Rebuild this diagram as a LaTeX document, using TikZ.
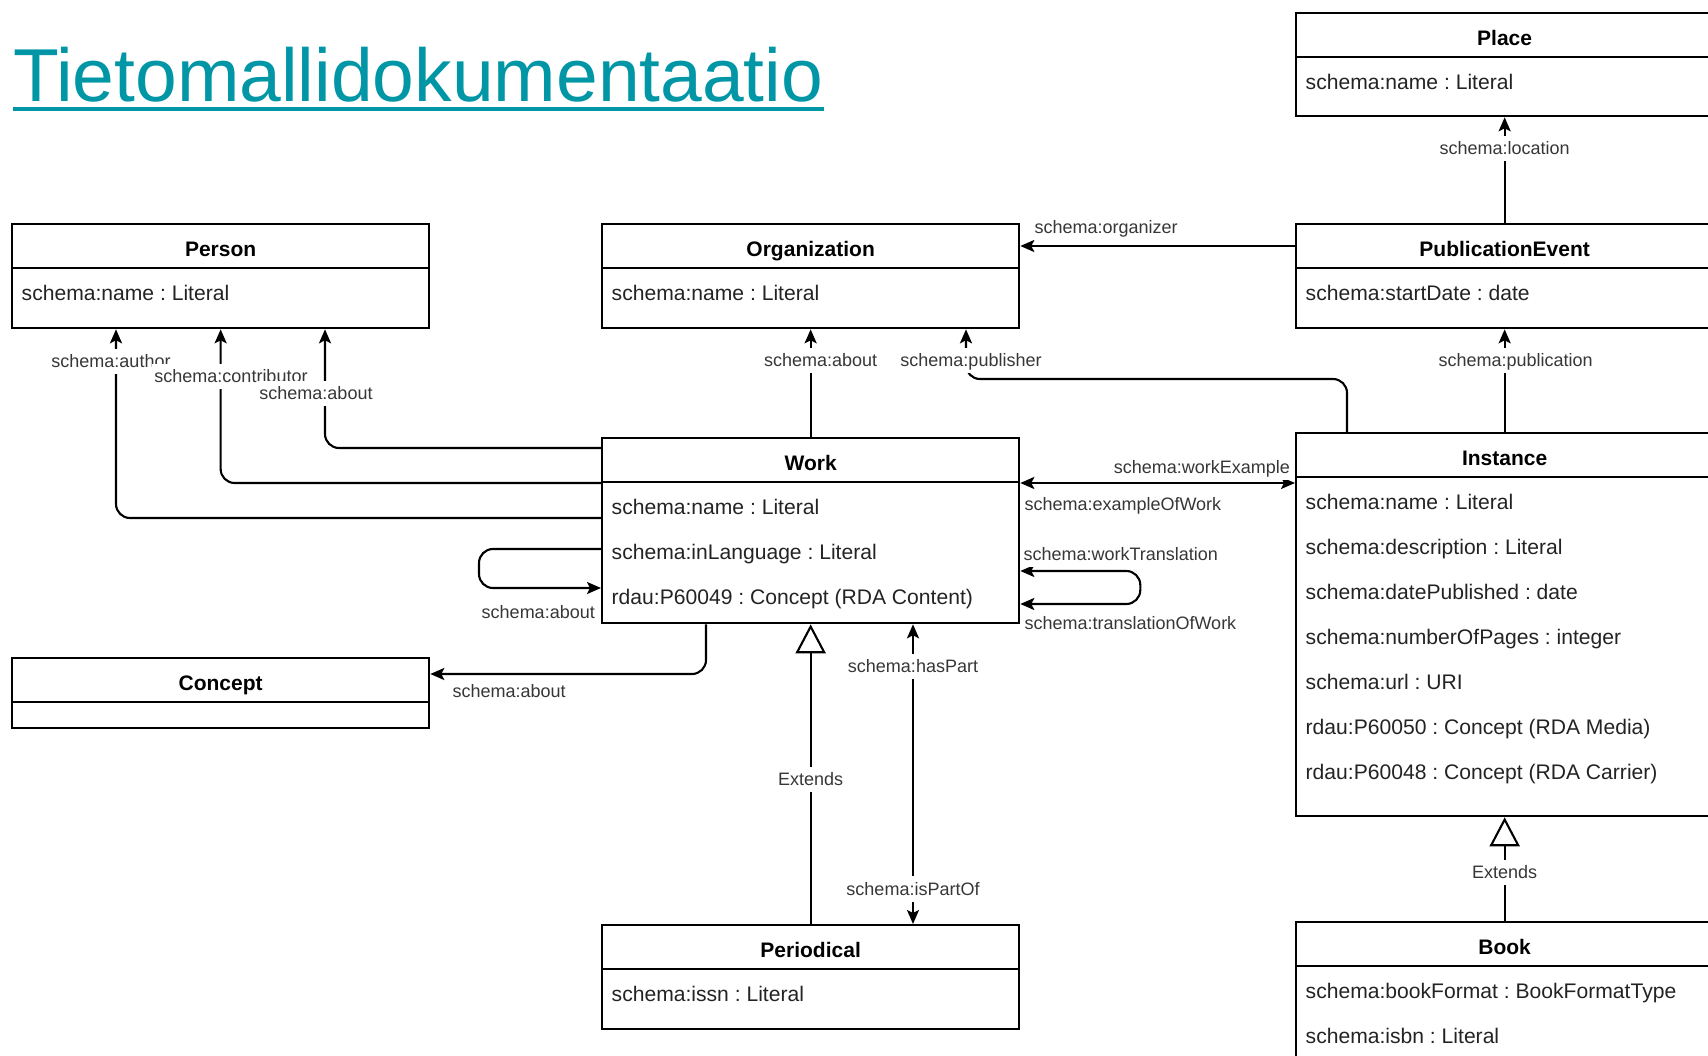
\documentclass[tikz,border=0pt]{standalone}
\usepackage{fontspec}
\setmainfont{Liberation Sans}
\usetikzlibrary{arrows.meta,calc}
\frenchspacing

\definecolor{titleteal}{RGB}{0,150,166}
\definecolor{attrgray}{RGB}{35,35,35}
\definecolor{lblgray}{RGB}{55,55,55}

% class box: name, x, y, height, title
\newcommand{\umlclass}[5]{%
  \node[classbox, minimum height=#4pt] (#1) at (#2,#3) {};
  \node[classtitle] (#1-title) at ($(#1.north)+(0,26)$) {#5};
  \draw[boxline] ($(#1.north west)+(0,45)$) -- ($(#1.north east)+(0,45)$);
}

\begin{document}
\begin{tikzpicture}[x=1pt, y=-1pt,
  classbox/.style={draw, line width=2.3pt, anchor=north west, minimum width=417pt, inner sep=0pt},
  classtitle/.style={font=\fontsize{21}{24}\selectfont\bfseries, inner sep=0pt, text height=16pt, text depth=1pt},
  attr/.style={anchor=west, text=attrgray, font=\fontsize{21.1}{24}\selectfont, inner sep=0pt, text height=16pt, text depth=1pt},
  boxline/.style={line width=2.3pt},
  lbl/.style={fill=white, text=lblgray, font=\fontsize{18}{21}\selectfont, inner xsep=2pt, inner ysep=4pt, text height=15pt, text depth=2.5pt},
  assoc/.style={line width=2.1pt, rounded corners=14pt, -{Stealth[length=14pt,width=12pt,inset=3pt]}},
  twoway/.style={assoc, {Stealth[length=14pt,width=12pt,inset=3pt]}-{Stealth[length=14pt,width=12pt,inset=3pt]}},
  extends/.style={line width=2.1pt, -{Triangle[open,length=29pt,width=30pt,fill=white]}}
]
\useasboundingbox (0,0) rectangle (1708,1056);

% title
\node[anchor=base west, inner sep=0pt, text=titleteal, font=\fontsize{75}{80}\selectfont] (title) at (13,102) {Tietomallidokumentaatio};
\draw[titleteal, line width=4pt] ($(title.base west)+(0,7)$) -- ($(title.base east)+(0,7)$);

% classes
\umlclass{place}{1295}{12}{103}{Place}
\umlclass{pubevent}{1295}{223}{104}{PublicationEvent}
\umlclass{person}{11}{223}{104}{Person}
\umlclass{organization}{601}{223}{104}{Organization}
\umlclass{work}{601}{437}{185}{Work}
\umlclass{instance}{1295}{432}{383}{Instance}
\umlclass{concept}{11}{657}{70}{Concept}
\umlclass{periodical}{601}{924}{104}{Periodical}
\umlclass{book}{1295}{921}{200}{Book}

% attributes
\node[attr] (place-a1) at ($(place.north west)+(10.5,70)$) {schema:name : Literal};
\node[attr] (pubevent-a1) at ($(pubevent.north west)+(10.5,70)$) {schema:startDate : date};
\node[attr] (person-a1) at ($(person.north west)+(10.5,70)$) {schema:name : Literal};
\node[attr] (organization-a1) at ($(organization.north west)+(10.5,70)$) {schema:name : Literal};
\node[attr] (periodical-a1) at ($(periodical.north west)+(10.5,70)$) {schema:issn : Literal};
\foreach \txt [count=\i] in {schema:name : Literal, schema:inLanguage : Literal, rdau:P60049 : Concept (RDA Content)}
  \node[attr] (work-a\i) at ($(work.north west)+(10.5,25+45*\i)$) {\txt};
\foreach \txt [count=\i] in {schema:name : Literal, schema:description : Literal, schema:datePublished : date, schema:numberOfPages : integer, schema:url : URI, rdau:P60050 : Concept (RDA Media), rdau:P60048 : Concept (RDA Carrier)}
  \node[attr] (instance-a\i) at ($(instance.north west)+(10.5,25+45*\i)$) {\txt};
\foreach \txt [count=\i] in {schema:bookFormat : BookFormatType, schema:isbn : Literal}
  \node[attr] (book-a\i) at ($(book.north west)+(10.5,25+45*\i)$) {\txt};

% connectors
\draw[assoc] ($(work.north west)+(0,81)$) -| ($(person.south west)+(105,0)$);
\draw[assoc] ($(work.north west)+(0,46)$) -| (person.south);
\draw[assoc] ($(work.north west)+(0,11)$) -| ($(person.south west)+(314,0)$);
\draw[assoc] (work.north) -- (organization.south);
\draw[assoc] ($(instance.north west)+(52,0)$) -- ++(0,-53) -| ($(organization.south west)+(365,0)$);
\draw[assoc] (instance.north) -- (pubevent.south);
\draw[assoc] (pubevent.north) -- (place.south);
\draw[assoc] ($(pubevent.north west)+(0,23)$) -- ($(organization.north east)+(0,23)$);
\draw[twoway] ($(work.north east)+(0,46)$) -- ($(instance.north west)+(0,51)$);
\draw[assoc] ($(work.north west)+(0,112)$) -- ++(-122,0) -- ++(0,39) -- ($(work.north west)+(0,151)$);
\draw[twoway] ($(work.north east)+(0,167)$) -- ++(120,0) -- ++(0,-33) -- ($(work.north east)+(0,134)$);
\draw[assoc] ($(work.south west)+(105,0)$) |- ($(concept.north east)+(0,17)$);
\draw[extends] (periodical.north) -- (work.south);
\draw[twoway] ($(periodical.north west)+(312,0)$) -- ($(work.south west)+(312,0)$);
\draw[extends] (book.north) -- (instance.south);

% labels
\node[lbl] (l-author) at ($(person.south west)+(100,32)$) {schema:author};
\node[lbl] (l-contributor) at ($(person.south west)+(220,47)$) {schema:contributor};
\node[lbl] (l-aboutperson) at ($(person.south west)+(305,64)$) {schema:about};
\node[lbl] (l-aboutorg) at ($(organization.south)+(10,31)$) {schema:about};
\node[lbl] (l-publisher) at ($(organization.south west)+(370,31)$) {schema:publisher};
\node[lbl] (l-publication) at ($(pubevent.south)+(11,31)$) {schema:publication};
\node[lbl] (l-location) at ($(place.south)+(0,31)$) {schema:location};
\node[lbl, anchor=west] (l-organizer) at ($(organization.north east)+(12,4)$) {schema:organizer};
\node[lbl, anchor=east] (l-workexample) at ($(instance.north west)+(-3,35)$) {schema:workExample};
\node[lbl, anchor=west] (l-exampleofwork) at ($(work.north east)+(2,67)$) {schema:exampleOfWork};
\node[lbl, anchor=east] (l-aboutself) at ($(work.north west)+(-4,175)$) {schema:about};
\node[lbl, anchor=west] (l-worktranslation) at ($(work.north east)+(1,117)$) {schema:workTranslation};
\node[lbl, anchor=west] (l-translationof) at ($(work.north east)+(2,186)$) {schema:translationOfWork};
\node[lbl, anchor=west] (l-aboutconcept) at ($(concept.north east)+(20,34)$) {schema:about};
\node[lbl] (l-extends1) at ($(work.south)+(0,155)$) {Extends};
\node[lbl] (l-extends2) at ($(instance.south)+(0,55)$) {Extends};
\node[lbl] (l-haspart) at ($(work.south west)+(312,42)$) {schema:hasPart};
\node[lbl] (l-ispartof) at ($(periodical.north west)+(312,-35)$) {schema:isPartOf};
\end{tikzpicture}
\end{document}
